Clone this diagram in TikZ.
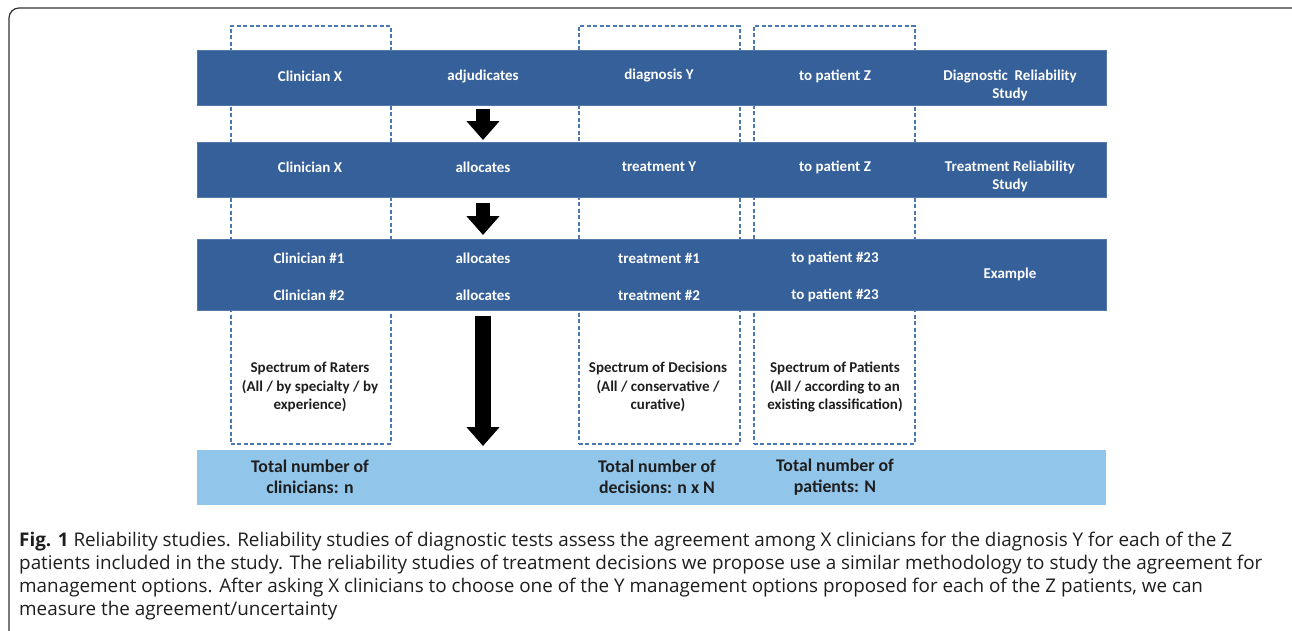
\documentclass[tikz,border=0pt]{standalone}
\usepackage{fontspec}
\setmainfont{Carlito}
\newfontfamily\capfont{Open Sans}
\usetikzlibrary{arrows.meta}
\definecolor{darkband}{HTML}{36609A}
\definecolor{lightband}{HTML}{92C5EA}
\definecolor{dashblue}{HTML}{4A78B2}
\definecolor{framegray}{HTML}{333333}
\definecolor{txtdark}{HTML}{1E1E1E}
\begin{document}
\begin{tikzpicture}[x=1pt,y=-1pt,
  band/.style={fill=darkband, draw=darkband!85!white, line width=0.6pt, anchor=north west, inner sep=0pt, minimum width=909pt},
  lband/.style={fill=lightband, draw=none, anchor=north west, inner sep=0pt, minimum width=909pt, minimum height=55pt},
  dbox/.style={draw=dashblue, line width=1.6pt, dash pattern=on 4pt off 2.5pt, anchor=north west, inner sep=0pt, minimum width=160pt, minimum height=418pt},
  bt/.style={text=white, font=\fontsize{15}{18}\selectfont\bfseries, align=center, inner sep=0pt},
  st/.style={text=txtdark, font=\fontsize{15}{18.5}\selectfont\bfseries, align=center, inner sep=0pt},
  tt/.style={text=txtdark, font=\fontsize{17.8}{21}\selectfont\bfseries, align=center, inner sep=0pt},
  blockarrow/.style={line width=14pt, -{Triangle[width=32pt,length=19pt]}, black},
]
\useasboundingbox (0,0) rectangle (1292,630);
% outer frame
\draw[framegray, line width=1.2pt, rounded corners=10pt] (9,640) -- (9,8) -- (1300,8);
% dashed boxes
\node[dbox] (dA) at (230,25) {};
\node[dbox, minimum width=161pt] (dC) at (578,25) {};
\node[dbox, minimum width=161pt] (dD) at (753,25) {};
% bands
\node[band, minimum height=55pt] (b1) at (197,50) {};
\node[band, minimum height=55pt] (b2) at (197,142) {};
\node[band, minimum height=71pt] (b3) at (197,239) {};
\node[lband] (b4) at (197,450) {};
% band 1 texts
\node[bt] (t11) at (310,76) {Clinician X};
\node[bt] (t12) at (483,76) {adjudicates};
\node[bt] (t13) at (659,76) {diagnosis Y};
\node[bt] (t14) at (835,76) {to patient Z};
\node[bt] (t15) at (1010,85) {Diagnostic\ \ Reliability\\Study};
% band 2 texts
\node[bt] (t21) at (310,167) {Clinician X};
\node[bt] (t22) at (483,167) {allocates};
\node[bt] (t23) at (659,167) {treatment Y};
\node[bt] (t24) at (835,167) {to patient Z};
\node[bt] (t25) at (1010,176) {Treatment Reliability\\Study};
% band 3 texts
\node[bt] (t31) at (309,258) {Clinician \#1};
\node[bt] (t32) at (483,258) {allocates};
\node[bt] (t33) at (659,258) {treatment \#1};
\node[bt] (t34) at (835,258) {to patient \#23};
\node[bt] (t41) at (309,295) {Clinician \#2};
\node[bt] (t42) at (483,295) {allocates};
\node[bt] (t43) at (659,295) {treatment \#2};
\node[bt] (t44) at (835,295) {to patient \#23};
\node[bt] (t35) at (1010,274) {Example};
% spectrum texts
\node[st] (sA) at (310,387) {Spectrum of Raters\\(All / by specialty / by\\experience)};
\node[st] (sC) at (658,387) {Spectrum of Decisions\\(All / conservative /\\curative)};
\node[st] (sD) at (835,387) {Spectrum of Patients\\(All / according to an\\existing classification)};
% totals
\node[tt] (nA) at (310,477) {Total number of\\clinicians: n};
\node[tt] (nC) at (657,477) {Total number of\\decisions: n x N};
\node[tt] (nD) at (835,477) {Total number of\\patients: N};
% arrows
\draw[blockarrow, shorten <=3pt, shorten >=2pt] (b1.south -| t12) -- (b2.north -| t12);
\draw[blockarrow, shorten <=5pt, shorten >=4pt] (b2.south -| t12) -- (b3.north -| t12);
\draw[blockarrow, line width=16pt, shorten <=5pt, shorten >=4pt] (b3.south -| t12) -- (b4.north -| t12);
% caption
\node[anchor=base west, align=left, inner sep=0pt, text=txtdark,
      font=\capfont\fontsize{18.85}{23}\selectfont] (cap) at (19,615)
 {{\bfseries Fig. 1} Reliability studies. Reliability studies of diagnostic tests assess the agreement among X clinicians for the diagnosis Y for each of the Z\\
 patients included in the study. The reliability studies of treatment decisions we propose use a similar methodology to study the agreement for\\
 management options. After asking X clinicians to choose one of the Y management options proposed for each of the Z patients, we can\\
 measure the agreement/uncertainty};
\end{tikzpicture}
\end{document}
